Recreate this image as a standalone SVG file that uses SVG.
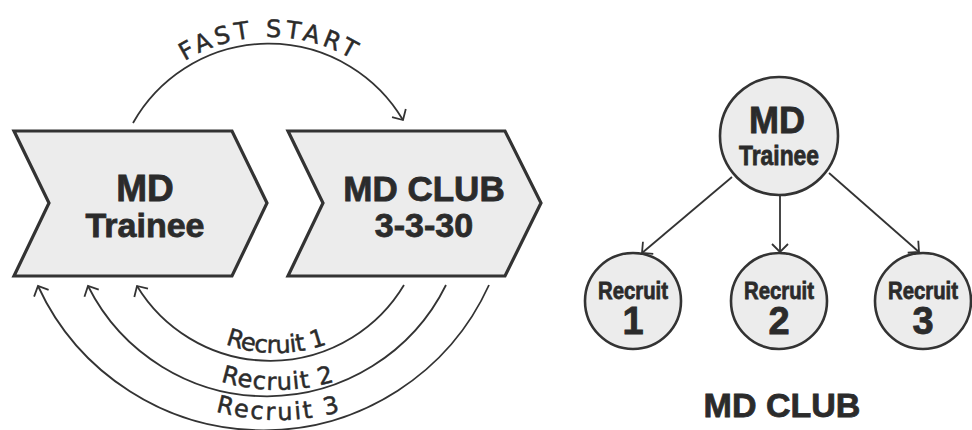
<svg xmlns="http://www.w3.org/2000/svg" xmlns:xlink="http://www.w3.org/1999/xlink" width="972" height="430" viewBox="0 0 972 430">
  <style>
    .shape { fill: #ececec; stroke: #333; stroke-width: 3.2; stroke-linejoin: miter; }
    .node { fill: #ececec; stroke: #333; stroke-width: 2.6; }
    .link { fill: none; stroke: #333; stroke-width: 1.8; marker-end: url(#open); }
    .bold { font-family: "Liberation Sans", Arial, sans-serif; font-weight: bold; fill: #2b2b2b; stroke: #2b2b2b; stroke-width: 0.8; text-anchor: middle; }
    .arc-label { font-family: "DejaVu Sans", "Liberation Sans", sans-serif; fill: #2b2b2b; stroke: #2b2b2b; stroke-width: 0.5; }
  </style>
  <defs>
    <marker id="open" viewBox="-12 -12 24 24" markerWidth="24" markerHeight="24" markerUnits="userSpaceOnUse" orient="auto" refX="0" refY="0" overflow="visible">
      <path d="M-8,-8 L0,0 L-8,8" fill="none" stroke="#333" stroke-width="1.8"/>
    </marker>
    <!-- baselines for the curved labels -->
    <path id="p-fast" d="M107,200 A163,163 0 0 1 433,200"/>
    <path id="p-r1" d="M127,204 A149,149 0 0 0 425,204"/>
    <path id="p-r2" d="M84,196 A194,194 0 0 0 472,196"/>
    <path id="p-r3" d="M41,182 A238,238 0 0 0 517,182"/>
  </defs>

  <rect width="972" height="430" fill="#fff"/>

  <!-- chevron stages -->
  <g id="stage-trainee">
    <polygon class="shape" points="14,131 232,131 267,203 232,276 14,276 49,203"/>
    <text class="bold" x="145" y="201" font-size="37">MD</text>
    <text class="bold" x="145" y="237" font-size="34">Trainee</text>
  </g>
  <g id="stage-club">
    <polygon class="shape" points="288,131 505,131 541,203 505,276 288,276 323,203"/>
    <text class="bold" x="424" y="201" font-size="35">MD CLUB</text>
    <text class="bold" x="424" y="237" font-size="34">3-3-30</text>
  </g>

  <!-- tree of the club -->
  <g id="tree-trainee">
    <circle class="node" cx="779" cy="136" r="59"/>
    <text class="bold" x="777" y="133" font-size="36">MD</text>
    <text class="bold" x="779" y="165" font-size="28" textLength="80" lengthAdjust="spacingAndGlyphs">Trainee</text>
  </g>
  <g id="tree-recruit-1">
    <circle class="node" cx="633" cy="301" r="48"/>
    <text class="bold" x="633" y="299" font-size="24" textLength="70" lengthAdjust="spacingAndGlyphs">Recruit</text>
    <text class="bold" x="633" y="334" font-size="38">1</text>
  </g>
  <g id="tree-recruit-2">
    <circle class="node" cx="779" cy="301" r="48"/>
    <text class="bold" x="779" y="299" font-size="24" textLength="70" lengthAdjust="spacingAndGlyphs">Recruit</text>
    <text class="bold" x="779" y="334" font-size="38">2</text>
  </g>
  <g id="tree-recruit-3">
    <circle class="node" cx="923" cy="301" r="48"/>
    <text class="bold" x="923" y="299" font-size="24" textLength="70" lengthAdjust="spacingAndGlyphs">Recruit</text>
    <text class="bold" x="923" y="334" font-size="38">3</text>
  </g>
  <g id="tree-caption">
    <text class="bold" x="782" y="417" font-size="34">MD CLUB</text>
  </g>

  <!-- connectors -->
  <g id="connectors">
    <path class="link" d="M133,123 A156,156 0 0 1 403,120"/>
    <path class="link" d="M404,285 A156,156 0 0 1 137,286"/>
    <path class="link" d="M446,285 A200,200 0 0 1 88,286"/>
    <path class="link" d="M489,285 A248,248 0 0 1 38,286"/>
    <path class="link" d="M732,177 L642,253"/>
    <path class="link" d="M780,195 L780,252"/>
    <path class="link" d="M829,173 L919,252"/>

    <text class="arc-label" font-size="24" letter-spacing="4"><textPath xlink:href="#p-fast" href="#p-fast" startOffset="50%" text-anchor="middle">FAST START</textPath></text>
    <text class="arc-label" font-size="24" letter-spacing="-0.5"><textPath xlink:href="#p-r1" href="#p-r1" startOffset="50%" text-anchor="middle">Recruit 1</textPath></text>
    <text class="arc-label" font-size="24" letter-spacing="1"><textPath xlink:href="#p-r2" href="#p-r2" startOffset="50%" text-anchor="middle">Recruit 2</textPath></text>
    <text class="arc-label" font-size="24" letter-spacing="2.3"><textPath xlink:href="#p-r3" href="#p-r3" startOffset="50%" text-anchor="middle">Recruit 3</textPath></text>
  </g>
</svg>
